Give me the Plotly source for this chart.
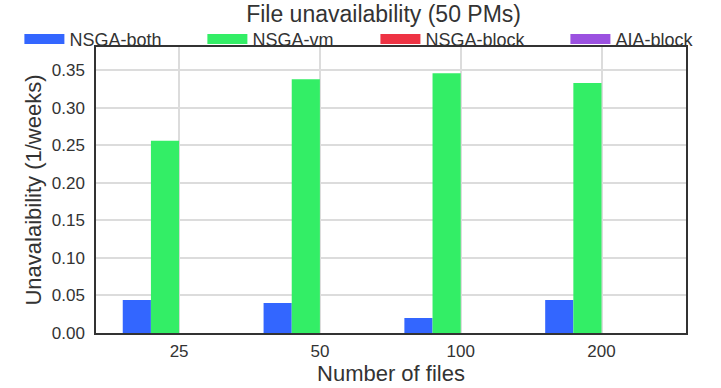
import plotly.graph_objects as go

categories = ["25", "50", "100", "200"]
series_names = ["NSGA-both", "NSGA-vm", "NSGA-block", "AIA-block"]
nsga_both = [0.044, 0.040, 0.020, 0.044]
nsga_vm = [0.256, 0.338, 0.346, 0.333]
nsga_block = [0.0, 0.0, 0.0, 0.0]
aia_block = [0.0, 0.0, 0.0, 0.0]
y_ticks = [0.00, 0.05, 0.10, 0.15, 0.20, 0.25, 0.30, 0.35]

colors = ["#3366ff", "#33ee66", "#ee3344", "#9b51e0"]
values = [nsga_both, nsga_vm, nsga_block, aia_block]
legend_ids = ["legend", "legend2", "legend3", "legend4"]
legend_x = [0.0269, 0.2807, 0.5207, 0.7842]

FONT = "Liberation Sans, Arial, sans-serif"
TXT = "#333"
fig = go.Figure()
for name, vals, col in zip(series_names, values, colors):
    fig.add_trace(go.Bar(x=categories, y=vals, name=name, marker_color=col,
                         marker_line_width=0, showlegend=False))
# legend swatches (wide rectangles), one legend per entry for exact placement
for name, col, lid in zip(series_names, colors, legend_ids):
    fig.add_trace(go.Scatter(x=[None], y=[None], mode="lines", name=name,
                             line=dict(color=col, width=12), legend=lid))

legend_common = dict(orientation="h", xanchor="left", xref="container", yref="container",
                     y=0.899, yanchor="middle",
                     font=dict(size=18, color=TXT), bgcolor="rgba(0,0,0,0)",
                     itemwidth=40)
layout_legends = {lid: dict(x=lx, **legend_common) for lid, lx in zip(legend_ids, legend_x)}

fig.update_layout(
    width=721, height=388,
    margin=dict(l=96, r=35, t=47, b=55, autoexpand=False),
    paper_bgcolor="white", plot_bgcolor="white",
    barmode="group", bargap=0.2, bargroupgap=0,
    font=dict(family=FONT, color=TXT, size=15),
    title=dict(text="File unavailability (50 PMs)", x=0.532, xanchor="center",
               y=0.965, yanchor="middle", font=dict(size=23, color=TXT)),
    xaxis=dict(title=dict(text="Number of files", font=dict(size=22), standoff=2),
               type="category", range=[-0.59, 3.6],
               showgrid=True, gridcolor="#dcdcdc", gridwidth=1.5,
               showline=True, linecolor="#333", linewidth=1.5, mirror=True,
               ticks="", tickfont=dict(size=17), ticklabelstandoff=2),
    yaxis=dict(title=dict(text="Unavalaibility (1/weeks)", font=dict(size=22), standoff=4),
               range=[0, 0.381], tickvals=y_ticks, tickformat=".2f",
               showgrid=True, gridcolor="#dcdcdc", gridwidth=1.5,
               showline=True, linecolor="#333", linewidth=1.5, mirror=True,
               ticks="", zeroline=False, tickfont=dict(size=17), ticklabelstandoff=6),
    **layout_legends,
)
fig.write_html("out.html")
